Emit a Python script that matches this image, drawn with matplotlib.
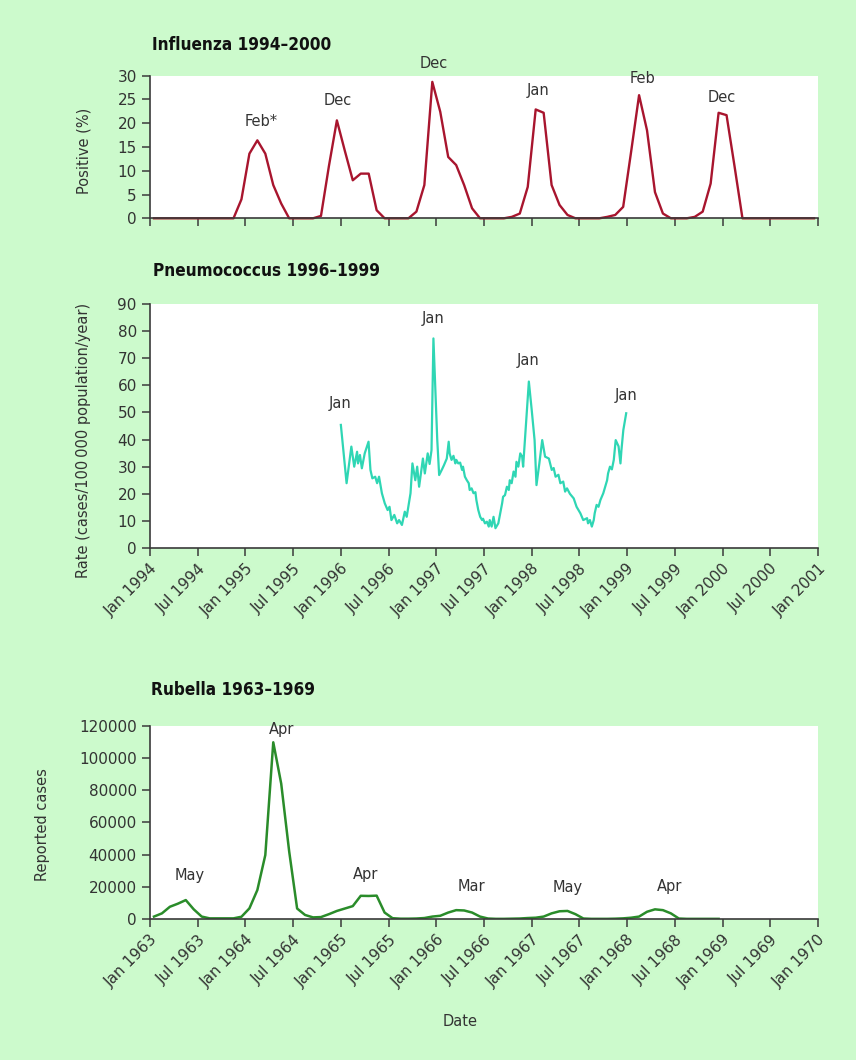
import matplotlib
matplotlib.use("Agg")
import matplotlib.pyplot as plt
import numpy as np

# ---------------- data ----------------
# Influenza: % positive, monthly Jan 1994 .. Dec 2000
flu_start = 1994
flu_values = [0, 0, 0, 0, 0, 0, 0, 0, 0, 0,
              0, 4.0, 13.6, 16.4, 13.6, 7.0, 3.1, 0,
              0, 0, 0,
              0.5, 11.0, 20.6, 14.2, 8.0, 9.4, 9.4, 1.7, 0,
              0, 0, 0,
              1.4, 7.0, 28.7, 22.4, 12.9, 11.2, 7.0, 2.1, 0,
              0, 0, 0, 0.3,
              1.0, 6.6, 22.9, 22.2, 7.0, 2.8, 0.7, 0,
              0, 0, 0, 0.3,
              0.7, 2.4, 14.0, 25.9, 18.5, 5.5, 1.0, 0,
              0, 0, 0.3,
              1.4, 7.3, 22.2, 21.7, 11.0, 0,
              0, 0, 0, 0, 0, 0, 0, 0, 0]
flu_peak_labels = ["Feb*", "Dec", "Dec", "Jan", "Feb", "Dec"]
flu_label_x = [1995.17, 1995.97, 1996.97, 1998.07, 1999.16, 1999.99]
flu_label_y = [20.3, 24.7, 32.5, 26.8, 29.5, 25.5]

# Pneumococcus: rate (cases/100 000/year), dates in decimal years
pneumo_dates = [1996.00, 1996.06, 1996.11, 1996.14, 1996.17, 1996.18, 1996.20, 1996.22,
                1996.25, 1996.29, 1996.31, 1996.33, 1996.36, 1996.38, 1996.40, 1996.43,
                1996.46, 1996.49, 1996.51, 1996.53, 1996.56, 1996.59, 1996.61, 1996.64,
                1996.67, 1996.69, 1996.73, 1996.75, 1996.78, 1996.80, 1996.82, 1996.86,
                1996.88, 1996.91, 1996.93, 1996.95, 1996.97, 1997.01, 1997.03, 1997.06,
                1997.08, 1997.11, 1997.13, 1997.14, 1997.16, 1997.18, 1997.20, 1997.21,
                1997.23, 1997.25, 1997.27, 1997.28, 1997.30, 1997.32, 1997.34, 1997.35,
                1997.37, 1997.39, 1997.41, 1997.42, 1997.44, 1997.46, 1997.48, 1997.49,
                1997.51, 1997.53, 1997.55, 1997.56, 1997.58, 1997.60, 1997.62, 1997.63,
                1997.65, 1997.67, 1997.69, 1997.70, 1997.72, 1997.74, 1997.76, 1997.77,
                1997.79, 1997.81, 1997.83, 1997.84, 1997.86, 1997.88, 1997.90, 1997.91,
                1997.97, 1998.00, 1998.03, 1998.05, 1998.08, 1998.11, 1998.14, 1998.18,
                1998.21, 1998.23, 1998.25, 1998.28, 1998.30, 1998.33, 1998.35, 1998.37,
                1998.40, 1998.44, 1998.47, 1998.49, 1998.51, 1998.54, 1998.58, 1998.59,
                1998.61, 1998.63, 1998.65, 1998.66, 1998.68, 1998.70, 1998.72, 1998.75,
                1998.79, 1998.80, 1998.82, 1998.84, 1998.86, 1998.88, 1998.91, 1998.93,
                1998.94, 1998.96, 1998.99]
pneumo_values = [45.4, 23.9, 37.4, 30.0, 35.5, 31.2, 34.3, 29.4,
                 34.9, 39.2, 28.8, 25.7, 26.3, 23.9, 26.3, 20.2,
                 16.5, 14.0, 15.2, 10.3, 12.2, 9.1, 10.3, 8.5,
                 13.4, 11.5, 20.2, 31.2, 25.0, 30.0, 22.6, 33.0,
                 27.5, 34.9, 31.0, 36.1, 77.3, 40.0, 26.9, 29.0,
                 30.5, 33.0, 39.2, 34.9, 32.5, 34.0, 31.2, 32.5,
                 31.2, 31.5, 28.8, 30.0, 26.3, 25.0, 23.9, 21.4,
                 22.0, 20.2, 20.6, 17.7, 14.0, 11.5, 10.3, 10.8,
                 9.1, 9.7, 7.9, 10.3, 7.9, 11.5, 7.3, 7.9,
                 9.1, 12.8, 16.5, 18.9, 19.5, 22.6, 21.4, 25.0,
                 23.9, 28.2, 26.3, 31.8, 30.0, 34.9, 33.7, 30.0,
                 61.4, 50.9, 39.8, 23.2, 31.2, 39.8, 33.7, 33.0,
                 28.8, 29.5, 26.3, 27.0, 23.9, 24.5, 20.8, 22.0,
                 20.0, 18.3, 15.2, 14.0, 12.8, 10.3, 11.0, 9.1,
                 10.3, 7.9, 10.3, 12.8, 15.9, 15.2, 17.7, 20.2,
                 25.0, 27.5, 30.0, 29.0, 32.5, 39.8, 37.5, 31.2,
                 36.0, 43.5, 49.7]
pneumo_peak_labels = ["Jan", "Jan", "Jan", "Jan"]
pneumo_label_x = [1995.99, 1996.97, 1997.96, 1998.99]
pneumo_label_y = [53.4, 84.7, 69.3, 56.1]

# Rubella: reported cases, monthly Jan 1963 .. Dec 1968
rub_start = 1963
rub_values = [1500, 3500, 7600, 9500, 11750, 6000, 1500, 400, 400, 400, 400, 1400,
              6600, 18000, 39700, 109700, 84000, 42000, 6500, 2500, 1000, 1200, 3000, 5000,
              6500, 8000, 14400, 14300, 14500, 4000, 500, 200, 200, 300, 600, 1500,
              2000, 4000, 5500, 5300, 4000, 1500, 300, 100, 100, 200, 300, 600,
              800, 1500, 3500, 4800, 5000, 3000, 300, 100, 100, 100, 200, 400,
              800, 1500, 4500, 6000, 5500, 3500, 300, 100, 100, 100, 100, 100]
rub_peak_labels = ["May", "Apr", "Apr", "Mar", "May", "Apr"]
rub_label_x = [1963.42, 1964.38, 1965.26, 1966.37, 1967.38, 1968.44]
rub_label_y = [27300, 117500, 27900, 20400, 19800, 20400]

flu_years = list(range(1994, 2002))
rub_years = list(range(1963, 1971))

# ---------------- style ----------------
BG = "#CCFACC"
AX = "#3a3a3a"
TXT = "#333333"
FS = 10.5
TFS = 11
TITLE_FONT = ["DejaVu Sans"]

plt.rcParams["font.family"] = ["DejaVu Sans"]

fig = plt.figure(figsize=(8.56, 10.6), dpi=100, facecolor=BG)

L, W = 150 / 856, 668 / 856


def fig_rect(top_px, bottom_px):
    b = 1 - bottom_px / 1060
    t = 1 - top_px / 1060
    return [L, b, W, t - b]


def style_axes(ax):
    ax.set_facecolor("white")
    for s in ("top", "right"):
        ax.spines[s].set_visible(False)
    for s in ("left", "bottom"):
        ax.spines[s].set_color(AX)
        ax.spines[s].set_linewidth(1.2)
    ax.tick_params(direction="out", length=6, width=1.1, color=AX,
                   labelcolor=TXT, labelsize=TFS)


def date_ticks(ax, years, show_labels=True):
    ticks, labels = [], []
    for i, y in enumerate(years):
        ticks.append(y)
        labels.append(f"Jan {y}")
        if i < len(years) - 1:
            ticks.append(y + 0.5)
            labels.append(f"Jul {y}")
    ax.set_xticks(ticks)
    if show_labels:
        ax.set_xticklabels(labels, rotation=45, ha="right", rotation_mode="anchor")
    else:
        ax.set_xticklabels([])
    ax.set_xlim(years[0], years[-1])


def title(x_px, y_px, s):
    fig.text(x_px / 856, 1 - y_px / 1060, s, family=TITLE_FONT, fontstretch="condensed",
             fontweight="bold", fontsize=12.3, color="#111111", va="center", ha="left")


# ---- Influenza ----
ax1 = fig.add_axes(fig_rect(75.7, 218.3))
style_axes(ax1)
fx = flu_start + (np.arange(len(flu_values)) + 0.5) / 12
ax1.plot(fx, flu_values, color="#A8152E", lw=1.7, clip_on=False)
ax1.set_ylim(0, 30)
ax1.set_yticks(np.arange(0, 31, 5))
date_ticks(ax1, flu_years, show_labels=False)
ax1.set_ylabel("Positive (%)", fontsize=FS, color=TXT)
ax1.yaxis.set_label_coords(-0.088, 0.47)
for t, x, y in zip(flu_peak_labels, flu_label_x, flu_label_y):
    ax1.text(x, y, t, ha="center", va="center", fontsize=FS, color=TXT, clip_on=False)
title(152, 45, "Influenza 1994\u20132000")

# ---- Pneumococcus ----
ax2 = fig.add_axes(fig_rect(304, 548))
style_axes(ax2)
ax2.plot(pneumo_dates, pneumo_values, color="#2FD6B4", lw=1.6)
ax2.set_ylim(0, 90)
ax2.set_yticks(np.arange(0, 91, 10))
date_ticks(ax2, flu_years)
ax2.set_ylabel("Rate (cases/100\u2009000 population/year)", fontsize=FS, color=TXT)
ax2.yaxis.set_label_coords(-0.088, 0.44)
for t, x, y in zip(pneumo_peak_labels, pneumo_label_x, pneumo_label_y):
    ax2.text(x, y, t, ha="center", va="center", fontsize=FS, color=TXT)
title(153, 271, "Pneumococcus 1996\u20131999")

# ---- Rubella ----
ax3 = fig.add_axes(fig_rect(725.7, 919))
style_axes(ax3)
rx = rub_start + (np.arange(len(rub_values)) + 0.5) / 12
ax3.plot(rx, rub_values, color="#2A8C2A", lw=1.8)
ax3.set_ylim(0, 120000)
ax3.set_yticks(np.arange(0, 120001, 20000))
ax3.set_yticklabels([f"{v:d}" for v in range(0, 120001, 20000)])
date_ticks(ax3, rub_years)
ax3.set_ylabel("Reported cases", fontsize=FS, color=TXT)
ax3.yaxis.set_label_coords(-0.15, 0.49)
for t, x, y in zip(rub_peak_labels, rub_label_x, rub_label_y):
    ax3.text(x, y, t, ha="center", va="center", fontsize=FS, color=TXT, clip_on=False)
title(151, 690, "Rubella 1963\u20131969")
fig.text(460 / 856, 1 - 1022 / 1060, "Date", fontsize=FS, color=TXT, ha="center", va="center")

fig.savefig("out.png", dpi=100, facecolor=BG)
